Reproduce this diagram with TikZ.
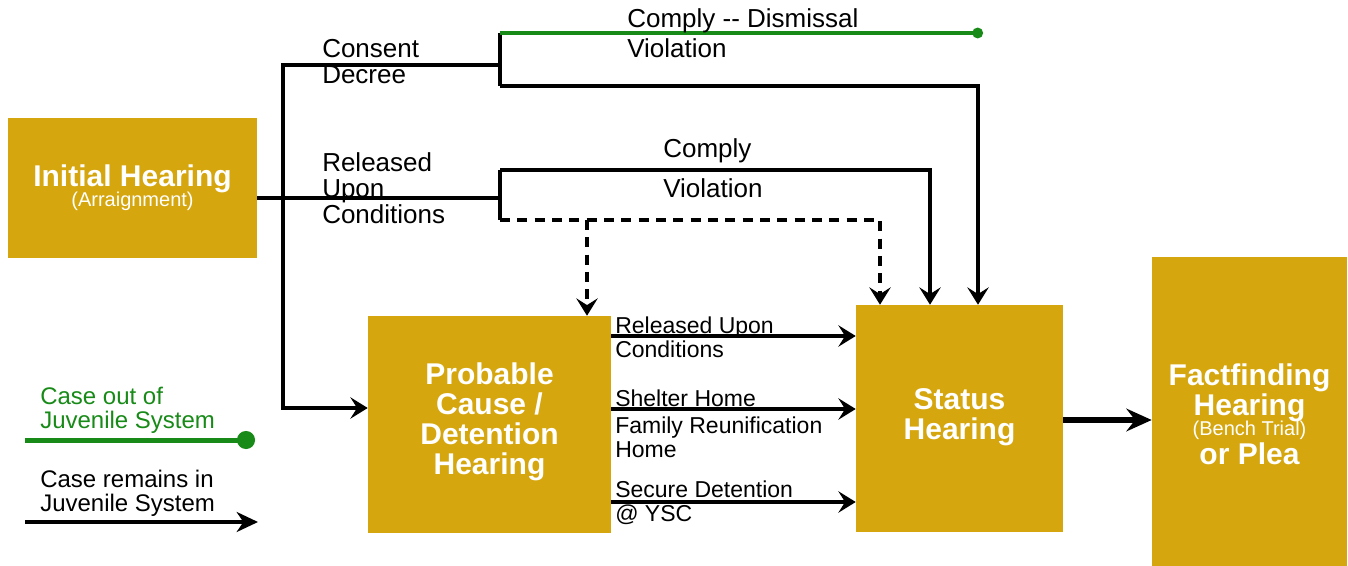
\documentclass[tikz,border=0pt]{standalone}
\usepackage{fontspec}
\setmainfont{Liberation Sans}
\usetikzlibrary{arrows.meta,calc}
\definecolor{gold}{HTML}{D5A60E}
\definecolor{grn}{HTML}{178A17}
\begin{document}
\begin{tikzpicture}[x=0.75pt,y=-0.75pt,
  box/.style={fill=gold, draw=none, inner sep=0pt},
  boxtext/.style={text=white, font=\bfseries\fontsize{22.5}{22.5}\selectfont, align=center, inner sep=0pt},
  smalltext/.style={text=white, font=\fontsize{15}{15}\selectfont, inner sep=0pt},
  conn/.style={line width=2.4pt},
  arr/.style={conn,-{Stealth[length=13pt,width=16pt,inset=5pt]}},
  darr/.style={arr,dash pattern=on 7.5pt off 5.5pt},
  bigarr/.style={line width=3.8pt,-{Stealth[length=19pt,width=17pt,inset=6.5pt]}},
  grnline/.style={grn,line width=2.4pt,-{Circle[length=8pt]}},
  lbl/.style={anchor=west, align=left, inner sep=0pt, font=\fontsize{19.5}{19.5}\selectfont},
  mlbl/.style={anchor=west, align=left, inner sep=0pt, font=\fontsize{17.25}{18}\selectfont},
  leg/.style={anchor=west, align=left, inner sep=0pt, font=\fontsize{18}{18}\selectfont},
]
\useasboundingbox (0,0) rectangle (1348,566);

% boxes
\node[box, minimum width=186.75pt, minimum height=105pt] (ih) at (132.5,188) {};
\node[boxtext] (iht) at (132.5,179) {Initial Hearing};
\node[smalltext] (iht2) at (132.5,201) {(Arraignment)};
\node[box, minimum width=182.25pt, minimum height=162.75pt] (pc) at (489.5,424.5) {};
\node[boxtext] (pct) at (489.5,422) {Probable\\Cause /\\Detention\\Hearing};
\node[box, minimum width=155.25pt, minimum height=170.25pt] (sh) at (959.5,418.5) {};
\node[boxtext] (sht) at (959.5,417) {Status\\Hearing};
\node[box, minimum width=146.25pt, minimum height=231.75pt] (ff) at (1249.5,411.5) {};
\node[boxtext] (fft) at (1249.5,392.5) {Factfinding\\Hearing};
\node[smalltext] (fft2) at (1249.5,430) {(Bench Trial)};
\node[boxtext] (fft3) at (1249.5,454) {or Plea};

% junction coordinates
\coordinate (j1) at (500,198);
\coordinate (t1) at (283,65);
\coordinate (t2) at (283,408);
\coordinate (cd) at (500,65);
\coordinate (cdt) at (500,33);
\coordinate (cdb) at (500,86);
\coordinate (dis) at (983,33);
\coordinate (c2) at (978,86);
\coordinate (rt) at (500,170);
\coordinate (rb) at (500,220);
\coordinate (r2) at (930,170);
\coordinate (r3) at (880,220);
\coordinate (r4) at (587,220);

% connectors
\draw[conn] (ih.east |- j1) -- (j1);
\draw[arr] (cd) -- (t1) -- (t2) -- (pc.west |- t2);
\draw[conn] (cdt) -- (cdb);
\draw[grnline] (cdt) -- (dis);
\draw[arr] (cdb) -- (c2) -- (c2 |- sh.north);
\draw[conn] (rt) -- (rb);
\draw[arr] (rt) -- (r2) -- (r2 |- sh.north);
\draw[darr] (rb) -- (r3) -- (r3 |- sh.north);
\draw[darr] (r4) -- (r4 |- pc.north);
\draw[arr] (pc.east |- 0,336) -- (sh.west |- 0,336);
\draw[arr] (pc.east |- 0,409) -- (sh.west |- 0,409);
\draw[arr] (pc.east |- 0,502) -- (sh.west |- 0,502);
\draw[bigarr] (sh.east |- 0,420) -- (ff.west |- 0,420);

% labels
\node[lbl] (l1) at (322,62) {Consent\\Decree};
\node[lbl] (l2) at (322,188) {Released\\Upon\\Conditions};
\node[lbl] (l3) at (627,21) {Comply -{}- Dismissal};
\node[lbl] (l4) at (627,48) {Violation};
\node[lbl] (l5) at (663,151) {Comply};
\node[lbl] (l6) at (663,188) {Violation};
\node[mlbl] (m1) at (615,337) {Released Upon\\Conditions};
\node[mlbl] (m2) at (615,398) {Shelter Home};
\node[mlbl] (m3) at (615,437) {Family Reunification\\Home};
\node[mlbl] (m4) at (615,503) {Secure Detention\\@ YSC};

% legend
\node[leg, text=grn] (g1) at (40,410) {Case out of\\Juvenile System};
\coordinate (lg1) at (25,440);
\coordinate (lg2) at (255,440);
\draw[grn, line width=3.75pt, -{Circle[length=13.5pt]}] (lg1) -- (lg2);
\node[leg] (g2) at (40,493) {Case remains in\\Juvenile System};
\coordinate (lb1) at (25,522);
\coordinate (lb2) at (258,522);
\draw[line width=2.3pt, -{Stealth[length=16pt,width=15pt,inset=5pt]}] (lb1) -- (lb2);
\end{tikzpicture}
\end{document}
